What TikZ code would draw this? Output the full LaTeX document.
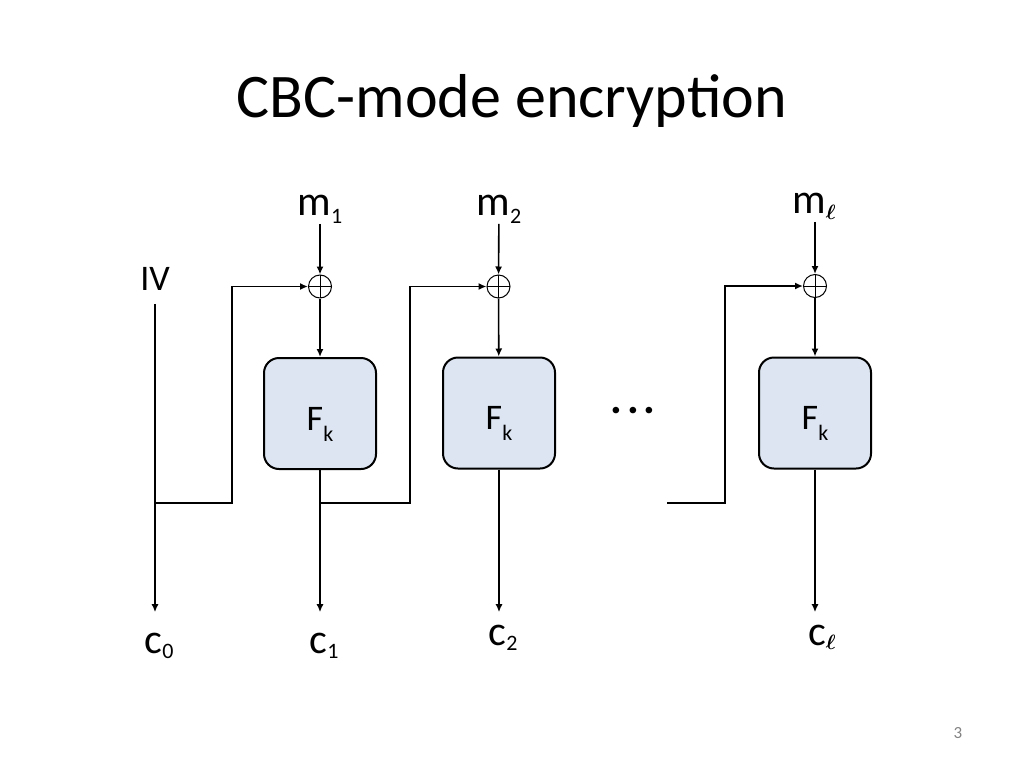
\documentclass[tikz,border=0pt]{standalone}
\usepackage{fontspec}
\setmainfont{Carlito}
\usetikzlibrary{arrows.meta}
\usetikzlibrary{positioning}
\definecolor{fkblue}{RGB}{220,229,241}
\definecolor{pgray}{RGB}{130,130,130}
\newcommand{\lsub}[2][8pt]{\lower#1\hbox{\fontsize{22}{24}\selectfont #2}}

\begin{document}
\begin{tikzpicture}[x=1pt, y=-1pt, line width=1.6pt, >={Latex[length=8pt,width=7pt]},
    lbl/.style={inner sep=0pt, anchor=base, text height=40pt, text depth=8pt,
      font=\fontsize{42}{46}\selectfont},
    fkbox/.style={draw, fill=fkblue, line width=2pt, rounded corners=15pt,
      minimum width=112pt, minimum height=111pt, inner sep=0pt,
      text height=33pt, text depth=0pt, font=\fontsize{36}{40}\selectfont},
    xorop/.style={circle, draw, line width=1pt, minimum size=23pt, inner sep=0pt,
      path picture={\draw[line width=1pt]
        (path picture bounding box.north) -- (path picture bounding box.south)
        (path picture bounding box.west) -- (path picture bounding box.east);}}]
  \useasboundingbox (0,0) rectangle (1024,768);

  \node[anchor=base, inner sep=0pt, font=\fontsize{62}{70}\selectfont] (title) at (512,117) {CBC-mode encryption};

  \node[lbl, text depth=13pt, font=\fontsize{36}{40}\selectfont] (iv) at (155,290) {IV};
  \node[lbl] (m1) at (320,215) {m\lsub{1}};
  \node[lbl] (m2) at (499,215) {m\lsub{2}};
  \node[lbl] (ml) at (814,213) {m\lsub[6pt]{\boldmath$\ell$}};

  \node[xorop] (x1) at (320,286.5) {};
  \node[xorop] (x2) at (498.5,286.5) {};
  \node[xorop] (x3) at (815,286) {};

  \node[fkbox] (f1) at (320,413.5) {F\lsub[11pt]{k}};
  \node[fkbox] (f2) at (499,413) {F\lsub[11pt]{k}};
  \node[fkbox] (f3) at (815,413) {F\lsub[11pt]{k}};

  \node[anchor=base, inner sep=0pt, font=\fontsize{44}{48}\selectfont\bfseries] (dots) at (633,413) {.\hspace{5pt}.\hspace{5pt}.};

  \node[lbl] (c0) at (159,653) {c\lsub[5pt]{0}};
  \node[lbl] (c1) at (324,653) {c\lsub[5pt]{1}};
  \node[lbl, text height=32pt] (c2) at (503,645) {c\lsub[5pt]{2}};
  \node[lbl, text height=32pt] (cl) at (822,645) {c\lsub[4pt]{\boldmath$\ell$}};

  \node[anchor=base, inner sep=0pt, text=pgray, font=\fontsize{17}{20}\selectfont] (page) at (958,738) {3};

  \draw[->] (m1) -- (x1);
  \draw[->] (m2) -- (x2);
  \draw[->] (ml.south -| x3) -- (x3);
  \draw[->] (x1) -- (f1);
  \draw[->] (x2) -- (f2);
  \draw[->] (x3) -- (f3);

  \draw[->] (iv.south) -- (iv.south |- c0.north);
  \draw[->] (f1.south) -- (f1.south |- c1.north);
  \draw[->] (f2.south) -- (f2.south |- c2.north);
  \draw[->] (f3.south) -- (f3.south |- cl.north);

  \coordinate (s0) at (iv.south |- 0,503);
  \coordinate (s1) at (f1.south |- 0,503);
  \coordinate (s2) at (667,503);
  \draw[->] (s0) -- ++(77,0) |- (x1);
  \draw[->] (s1) -- ++(90,0) |- (x2);
  \draw[->] (s2) -- ++(58,0) |- (x3);
\end{tikzpicture}
\end{document}
